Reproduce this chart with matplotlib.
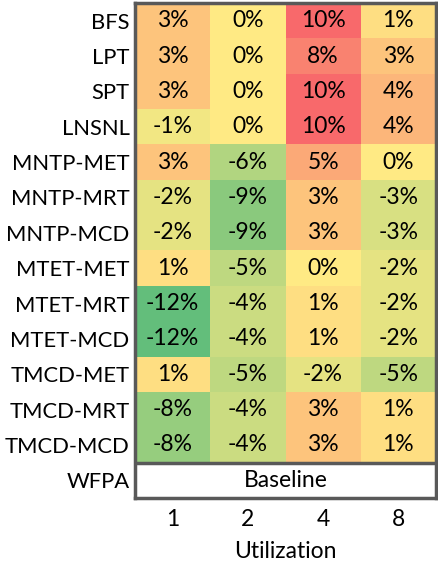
import numpy as np
import matplotlib
matplotlib.use("Agg")
import matplotlib.pyplot as plt
from matplotlib.colors import LinearSegmentedColormap, TwoSlopeNorm

plt.rcParams['font.family'] = ['Lato', 'DejaVu Sans']

#heatmap data (percent change vs WFPA baseline)
rows = ["BFS", "LPT", "SPT", "LNSNL", "MNTP-MET", "MNTP-MRT", "MNTP-MCD",
        "MTET-MET", "MTET-MRT", "MTET-MCD", "TMCD-MET", "TMCD-MRT", "TMCD-MCD"]
utilization = ["1", "2", "4", "8"]
values = [
    [3, 0, 10, 1],
    [3, 0, 8, 3],
    [3, 0, 10, 4],
    [-1, 0, 10, 4],
    [3, -6, 5, 0],
    [-2, -9, 3, -3],
    [-2, -9, 3, -3],
    [1, -5, 0, -2],
    [-12, -4, 1, -2],
    [-12, -4, 1, -2],
    [1, -5, -2, -5],
    [-8, -4, 3, 1],
    [-8, -4, 3, 1],
]
baseline_name = "WFPA"
baseline_text = "Baseline"

data = np.array(values, dtype=float)
n_rows, n_cols = data.shape
fs = 16.5

cmap = LinearSegmentedColormap.from_list("excel", ["#63BE7B", "#FFEB84", "#F8696B"])
norm = TwoSlopeNorm(vmin=data.min(), vcenter=0, vmax=data.max())

fig = plt.figure(figsize=(4.39, 5.66), dpi=100)
ax = fig.add_axes([135/439, 68/566, 301/439, 495/566])

ax.pcolormesh(np.arange(n_cols + 1), np.arange(n_rows + 1), data, cmap=cmap, norm=norm)
ax.set_xlim(0, n_cols)
ax.set_ylim(n_rows + 1, 0)

for i in range(n_rows):
    for j in range(n_cols):
        ax.text(j + 0.5, i + 0.5, f"{int(data[i, j])}%", ha="center", va="center",
                fontsize=fs, color="black")
ax.text(n_cols / 2, n_rows + 0.5, baseline_text, ha="center", va="center", fontsize=fs)
ax.axhline(n_rows, color="#595959", lw=2.5)

ax.set_yticks(np.arange(n_rows + 1) + 0.5)
ax.set_yticklabels(rows + [baseline_name], fontsize=15.8)
ax.set_xticks(np.arange(n_cols) + 0.5)
ax.set_xticklabels(utilization, fontsize=fs)
ax.tick_params(axis="y", length=0, pad=4)
ax.tick_params(axis="x", length=0, pad=8)
ax.set_xlabel("Utilization", fontsize=fs, labelpad=8)

for s in ax.spines.values():
    s.set_color("#595959")
    s.set_linewidth(2.5)

fig.savefig("out.png", dpi=100)
